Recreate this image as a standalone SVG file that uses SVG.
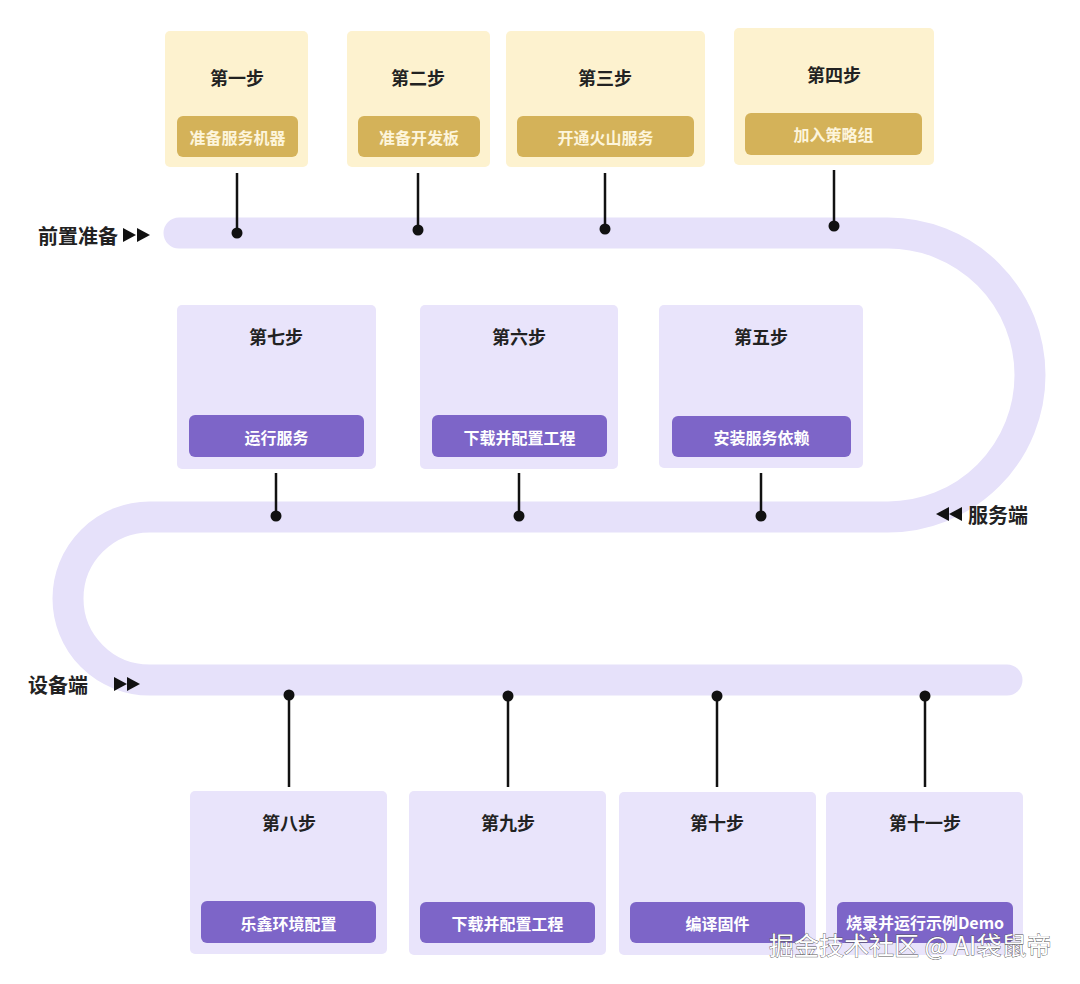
<svg xmlns="http://www.w3.org/2000/svg" width="1080" height="984" viewBox="0 0 1080 984">
<style>
text{font-family:"Noto Sans CJK SC","Noto Sans",sans-serif;}
.ybox{fill:#fdf2cf;}
.ybtn{fill:#d4b259;}
.ytxt{fill:#fdf5dc;font-size:16px;font-weight:700;text-anchor:middle;dominant-baseline:central;}
.pbox{fill:#e9e4fb;}
.pbtn{fill:#7d65c8;}
.ptxt{fill:#ffffff;font-size:16px;font-weight:700;text-anchor:middle;dominant-baseline:central;}
.title{fill:#222222;font-size:18px;font-weight:700;text-anchor:middle;dominant-baseline:central;}
.lbl{fill:#222222;font-size:20px;font-weight:700;dominant-baseline:central;}
.track{fill:none;stroke:#e6e1fa;stroke-width:31;stroke-linecap:round;stroke-linejoin:round;}
.stem{stroke:#111111;stroke-width:2.5;}
.dot{fill:#111111;}
.tri{fill:#111111;}
.wm{fill:#ffffff;stroke:#555555;stroke-width:0.8;font-size:25px;font-family:"Noto Sans CJK SC","Noto Sans",sans-serif;paint-order:stroke;}
</style>

<g id="track">
<path class="track" d="M 179 233 H 888 A 142 142 0 0 1 888 517 H 149.5 A 81.5 81.5 0 0 0 149.5 680 H 1007"/>
</g>

<g id="labels">
<text class="lbl" x="38" y="235">前置准备</text>
<polygon class="tri" points="123,228 136,235 123,242"/>
<polygon class="tri" points="137,228 150,235 137,242"/>
<polygon class="tri" points="949,507 936,514 949,521"/>
<polygon class="tri" points="962,507 949,514 962,521"/>
<text class="lbl" x="968" y="514">服务端</text>
<text class="lbl" x="28" y="684">设备端</text>
<polygon class="tri" points="114,677 127,684 114,691"/>
<polygon class="tri" points="127,677 140,684 127,691"/>
</g>

<g id="connectors">
<line class="stem" x1="237" y1="173" x2="237" y2="233"/><circle class="dot" cx="237" cy="233" r="5.5"/>
<line class="stem" x1="418" y1="173" x2="418" y2="230"/><circle class="dot" cx="418" cy="230" r="5.5"/>
<line class="stem" x1="605" y1="173" x2="605" y2="229"/><circle class="dot" cx="605" cy="229" r="5.5"/>
<line class="stem" x1="834" y1="170" x2="834" y2="226"/><circle class="dot" cx="834" cy="226" r="5.5"/>
<line class="stem" x1="276" y1="473" x2="276" y2="516"/><circle class="dot" cx="276" cy="516" r="5.5"/>
<line class="stem" x1="519" y1="473" x2="519" y2="516"/><circle class="dot" cx="519" cy="516" r="5.5"/>
<line class="stem" x1="761" y1="473" x2="761" y2="516"/><circle class="dot" cx="761" cy="516" r="5.5"/>
<line class="stem" x1="289" y1="695" x2="289" y2="787"/><circle class="dot" cx="289" cy="695" r="5.5"/>
<line class="stem" x1="508" y1="696" x2="508" y2="787"/><circle class="dot" cx="508" cy="696" r="5.5"/>
<line class="stem" x1="717" y1="696" x2="717" y2="787"/><circle class="dot" cx="717" cy="696" r="5.5"/>
<line class="stem" x1="925" y1="696" x2="925" y2="787"/><circle class="dot" cx="925" cy="696" r="5.5"/>
</g>

<g id="step1">
<rect class="ybox" x="165" y="31" width="143" height="136" rx="5"/>
<text class="title" x="237" y="77">第一步</text>
<rect class="ybtn" x="177" y="116" width="121" height="41" rx="6"/>
<text class="ytxt" x="237.5" y="137">准备服务机器</text>
</g>
<g id="step2">
<rect class="ybox" x="347" y="31" width="143" height="136" rx="5"/>
<text class="title" x="418" y="77">第二步</text>
<rect class="ybtn" x="358" y="116" width="122" height="41" rx="6"/>
<text class="ytxt" x="419" y="137">准备开发板</text>
</g>
<g id="step3">
<rect class="ybox" x="506" y="31" width="199" height="136" rx="5"/>
<text class="title" x="605" y="77">第三步</text>
<rect class="ybtn" x="517" y="116" width="177" height="41" rx="6"/>
<text class="ytxt" x="605.5" y="137">开通火山服务</text>
</g>
<g id="step4">
<rect class="ybox" x="734" y="28" width="200" height="137" rx="5"/>
<text class="title" x="834" y="74">第四步</text>
<rect class="ybtn" x="745" y="113" width="177" height="42" rx="6"/>
<text class="ytxt" x="833.5" y="134">加入策略组</text>
</g>

<g id="step5">
<rect class="pbox" x="659" y="305" width="204" height="163" rx="5"/>
<text class="title" x="761" y="336">第五步</text>
<rect class="pbtn" x="672" y="416" width="179" height="41" rx="6"/>
<text class="ptxt" x="761.5" y="437">安装服务依赖</text>
</g>
<g id="step6">
<rect class="pbox" x="420" y="305" width="198" height="164" rx="5"/>
<text class="title" x="519" y="336">第六步</text>
<rect class="pbtn" x="432" y="415" width="175" height="42" rx="6"/>
<text class="ptxt" x="519.5" y="437">下载并配置工程</text>
</g>
<g id="step7">
<rect class="pbox" x="177" y="305" width="199" height="164" rx="5"/>
<text class="title" x="276" y="336">第七步</text>
<rect class="pbtn" x="189" y="415" width="175" height="42" rx="6"/>
<text class="ptxt" x="276.5" y="437">运行服务</text>
</g>

<g id="step8">
<rect class="pbox" x="190" y="791" width="197" height="163" rx="5"/>
<text class="title" x="289" y="822">第八步</text>
<rect class="pbtn" x="201" y="901" width="175" height="42" rx="6"/>
<text class="ptxt" x="288.5" y="923">乐鑫环境配置</text>
</g>
<g id="step9">
<rect class="pbox" x="409" y="791" width="197" height="164" rx="5"/>
<text class="title" x="508" y="822">第九步</text>
<rect class="pbtn" x="420" y="902" width="175" height="41" rx="6"/>
<text class="ptxt" x="507.5" y="923">下载并配置工程</text>
</g>
<g id="step10">
<rect class="pbox" x="619" y="792" width="197" height="163" rx="5"/>
<text class="title" x="717" y="822">第十步</text>
<rect class="pbtn" x="630" y="902" width="175" height="41" rx="6"/>
<text class="ptxt" x="717.5" y="923">编译固件</text>
</g>
<g id="step11">
<rect class="pbox" x="826" y="792" width="197" height="163" rx="5"/>
<text class="title" x="925" y="822">第十一步</text>
<rect class="pbtn" x="837" y="902" width="176" height="41" rx="6"/>
<text class="ptxt" x="925" y="922">烧录并运行示例Demo</text>
</g>

<g id="watermark">
<text class="wm" x="769" y="955">掘金技术社区 @ AI袋鼠帝</text>
</g>
</svg>
